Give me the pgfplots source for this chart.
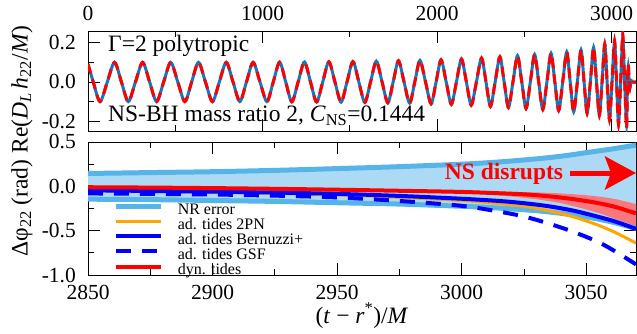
\documentclass[border=0pt]{standalone}
\usepackage{fontspec}
\setmainfont{Liberation Serif}
\usepackage{pgfplots}
\pgfplotsset{compat=1.18}
\usepackage{pgfplotstable}
\usetikzlibrary{arrows.meta}

\definecolor{wblue}{RGB}{20,120,190}
\definecolor{nrline}{RGB}{86,180,233}
\definecolor{nrfill}{RGB}{172,218,244}
\definecolor{redfill}{RGB}{248,120,125}
\definecolor{orng}{RGB}{255,165,0}

\newcommand\tickfont{\fontsize{21.5}{24}\selectfont}
\newcommand\labfont{\fontsize{23.5}{26}\selectfont}

\pgfplotstableread{
t nr dyn
0 0.092 0.092
30 0 0
69 -0.100 -0.100
110.5 0 0
152 0.100 0.100
191.5 0 0
231 -0.100 -0.100
272 0 0
313 0.100 0.100
353 0 0
393 -0.100 -0.100
433.5 0 0
474 0.100 0.100
514.5 0 0
555 -0.100 -0.100
594 0 0
633 0.100 0.100
673 0 0
713 -0.100 -0.100
752.5 0 0
792 0.100 0.100
831 0 0
870 -0.100 -0.100
908 0 0
946 0.100 0.100
985.5 0 0
1025 -0.100 -0.100
1061.5 0 0
1098 0.101 0.101
1133 0 0
1168 -0.101 -0.101
1204 0 0
1240 0.102 0.102
1275 0 0
1310 -0.102 -0.102
1345 0 0
1380 0.103 0.103
1415 0 0
1450 -0.103 -0.103
1484 0 0
1518 0.104 0.104
1552 0 0
1586 -0.104 -0.104
1619 0 0
1652 0.106 0.106
1685 0 0
1718 -0.106 -0.106
1748.5 0 0
1779 0.108 0.108
1811 0 0
1843 -0.108 -0.108
1872.5 0 0
1902 0.110 0.110
1934 0 0
1966 -0.111 -0.111
1994.5 0 0
2023 0.113 0.113
2052.5 0 0
2082 -0.114 -0.114
2111 0 0
2140 0.117 0.117
2168 0 0
2196 -0.118 -0.118
2225.5 0 0
2255 0.122 0.122
2280.5 0 0
2306 -0.124 -0.124
2333 0 0
2360 0.128 0.128
2384.5 0 0
2409 -0.130 -0.130
2435 0 0
2461 0.134 0.134
2485.5 0 0
2510 -0.135 -0.135
2534.5 0 0
2559 0.140 0.140
2582.5 0 0
2606 -0.140 -0.140
2629.5 0 0
2653 0.146 0.146
2675 0 0
2697 -0.145 -0.145
2720 0 0
2743 0.153 0.153
2763 0 0
2783 -0.152 -0.152
2804 0 0
2825 0.163 0.163
2842.5 0 0
2860 -0.160 -0.160
2878.5 0 0
2897 0.176 0.176
2913.5 0 0
2930 -0.170 -0.170
2945.5 0 0
2961 0.192 0.192
2974.5 0 0
2988 -0.190 -0.192
3002.5 0 0
3017 0.205 0.210
3028.5 0 0
3040 -0.212 -0.218
3052 0 0
3064 0.225 0.245
3075 0 0
3086 -0.215 -0.236
3091 0 0
3096 0.080 0.090
3100.5 0 0
3105 -0.030 -0.030
3112 0.008 0.008
3120 0 0
3140 0 0
}\wave

% NR error band outline: upper edge forward, lower edge backward
\pgfplotstableread{
t v
2850 0.145
2875 0.155
2900 0.165
2925 0.180
2950 0.200
2975 0.222
3000 0.250
3015 0.275
3030 0.310
3040 0.340
3050 0.380
3060 0.420
3070 0.465
3070 -0.475
3060 -0.400
3050 -0.345
3040 -0.305
3030 -0.275
3015 -0.245
3000 -0.225
2975 -0.200
2950 -0.185
2925 -0.170
2900 -0.160
2875 -0.150
2850 -0.145
}\bandpoly

\pgfplotstableread{
t up lo
2850 0.145 -0.145
2875 0.155 -0.150
2900 0.165 -0.160
2925 0.180 -0.170
2950 0.200 -0.185
2975 0.222 -0.200
3000 0.250 -0.225
3015 0.275 -0.245
3030 0.310 -0.275
3040 0.340 -0.305
3050 0.380 -0.345
3060 0.420 -0.400
3070 0.465 -0.475
}\band

% dyn. tides error band outline
\pgfplotstableread{
t v
2990 -0.052
3000 -0.055
3010 -0.058
3020 -0.062
3030 -0.068
3040 -0.080
3050 -0.100
3056 -0.118
3062 -0.145
3070 -0.200
3070 -0.450
3062 -0.370
3056 -0.310
3050 -0.260
3040 -0.190
3030 -0.145
3020 -0.115
3010 -0.090
3000 -0.072
2990 -0.062
}\redpoly

\pgfplotstableread{
t red blue orange gsf
2850 -0.010 -0.045 -0.050 -0.080
2875 -0.014 -0.052 -0.058 -0.085
2900 -0.020 -0.060 -0.068 -0.092
2925 -0.028 -0.070 -0.080 -0.105
2950 -0.038 -0.085 -0.097 -0.125
2975 -0.050 -0.108 -0.125 -0.165
3000 -0.063 -0.140 -0.160 -0.220
3015 -0.078 -0.165 -0.195 -0.285
3025 -0.090 -0.190 -0.225 -0.340
3035 -0.112 -0.225 -0.275 -0.420
3045 -0.145 -0.275 -0.345 -0.515
3055 -0.190 -0.345 -0.440 -0.630
3062 -0.235 -0.400 -0.525 -0.740
3070 -0.305 -0.480 -0.640 -0.880
}\lines

\pgfplotsset{
  common/.style={
    scale only axis, width=548pt, anchor=south west,
    major tick length=12pt, minor tick length=6pt,
    tick style={black, line width=0.8pt},
    axis line style={line width=0.9pt},
    yticklabel style={font=\tickfont, inner sep=0pt, anchor=east, xshift=-12pt},
  }
}

\begin{document}
\begin{tikzpicture}
\path[use as bounding box] (0,0) rectangle (637pt,333pt);

\begin{axis}[common,
  at={(88pt,202pt)}, height=100pt,
  xmin=0, xmax=3140, ymin=-0.25, ymax=0.26,
  xtick={0,1000,2000,3000}, xticklabels={0,1000,2000,3000},
  minor xtick={500,1500,2500},
  xticklabel pos=right,
  xticklabel style={font=\tickfont, inner sep=0pt, anchor=south, yshift=10pt},
  ytick={-0.2,0,0.2}, yticklabels={-0.2,0.0,0.2},
  minor ytick={-0.1,0.1},
]
\addplot[wblue, line width=3pt, smooth] table[x=t, y=nr]{\wave};
\addplot[red, line width=3pt, smooth, dash pattern=on 10pt off 6pt] table[x=t, y=dyn]{\wave};
\end{axis}

\begin{axis}[common,
  at={(88pt,58pt)}, height=133pt,
  xmin=2850, xmax=3070, ymin=-1, ymax=0.5,
  xtick={2850,2900,2950,3000,3050}, xticklabels={2850,2900,2950,3000,3050},
  minor xtick={2875,2925,2975,3025},
  xticklabel style={font=\tickfont, inner sep=0pt, anchor=north, yshift=-10pt},
  ytick={-1,-0.5,0,0.5}, yticklabels={-1.0,-0.5,0.0,0.5},
  minor ytick={-0.75,-0.25,0.25},
  legend style={at={(rel axis cs:0.047,0.549)}, anchor=north west, draw=none, fill=none,
    inner sep=0pt, outer sep=0pt, font=\fontsize{16}{13}\selectfont,
    row sep=-1.5pt, column sep=12pt},
  legend cell align=left,
  legend image code/.code={\draw[#1] (0pt,3.5pt) -- (45pt,3.5pt);},
]
\addplot[fill=nrfill, draw=none, forget plot] table[x=t, y=v]{\bandpoly} -- cycle;
\addplot[fill=redfill, draw=none, forget plot] table[x=t, y=v]{\redpoly} -- cycle;
\addplot[nrline, line width=5pt, smooth] table[x=t, y=up]{\band};
\addlegendentry{NR error}
\addplot[nrline, line width=5pt, smooth, forget plot] table[x=t, y=lo]{\band};
\addplot[orng, line width=3pt, smooth] table[x=t, y=orange]{\lines};
\addlegendentry{ad. tides 2PN}
\addplot[blue, line width=4pt, smooth] table[x=t, y=blue]{\lines};
\addlegendentry{ad. tides Bernuzzi+}
\addplot[blue, line width=4pt, smooth, dash pattern=on 15pt off 11pt] table[x=t, y=gsf]{\lines};
\addlegendentry{ad. tides GSF}
\addplot[red, line width=4pt, smooth] table[x=t, y=red]{\lines};
\addlegendentry{dyn. tides}
\end{axis}

\node[anchor=base west, inner sep=0pt, font=\labfont] at (108pt,281.5pt) {Γ=2 polytropic};
\node[anchor=base west, inner sep=0pt, font=\labfont] at (108pt,211.5pt) {NS-BH mass ratio 2, \textit{C}\textsubscript{NS}=0.1444};
\node[anchor=base, inner sep=0pt, font=\labfont\bfseries, text=red] at (504pt,154pt) {NS disrupts};
\draw[red, line width=5pt, -{Stealth[length=31pt, width=33pt, inset=6pt]}] (570pt,160pt) -- (636pt,160pt);
\node[anchor=base, inner sep=0pt, font=\labfont] at (362pt,10pt) {(\textit{t} − \textit{r}\textsuperscript{*})/\textit{M}};
\node[anchor=base, rotate=90, inner sep=0pt, font=\labfont] at (27.5pt,192pt) {Δφ\textsubscript{22} (rad) Re(\textit{D}\textsubscript{\textit{L}}\,\textit{h}\textsubscript{22}/\textit{M})};
\end{tikzpicture}
\end{document}
